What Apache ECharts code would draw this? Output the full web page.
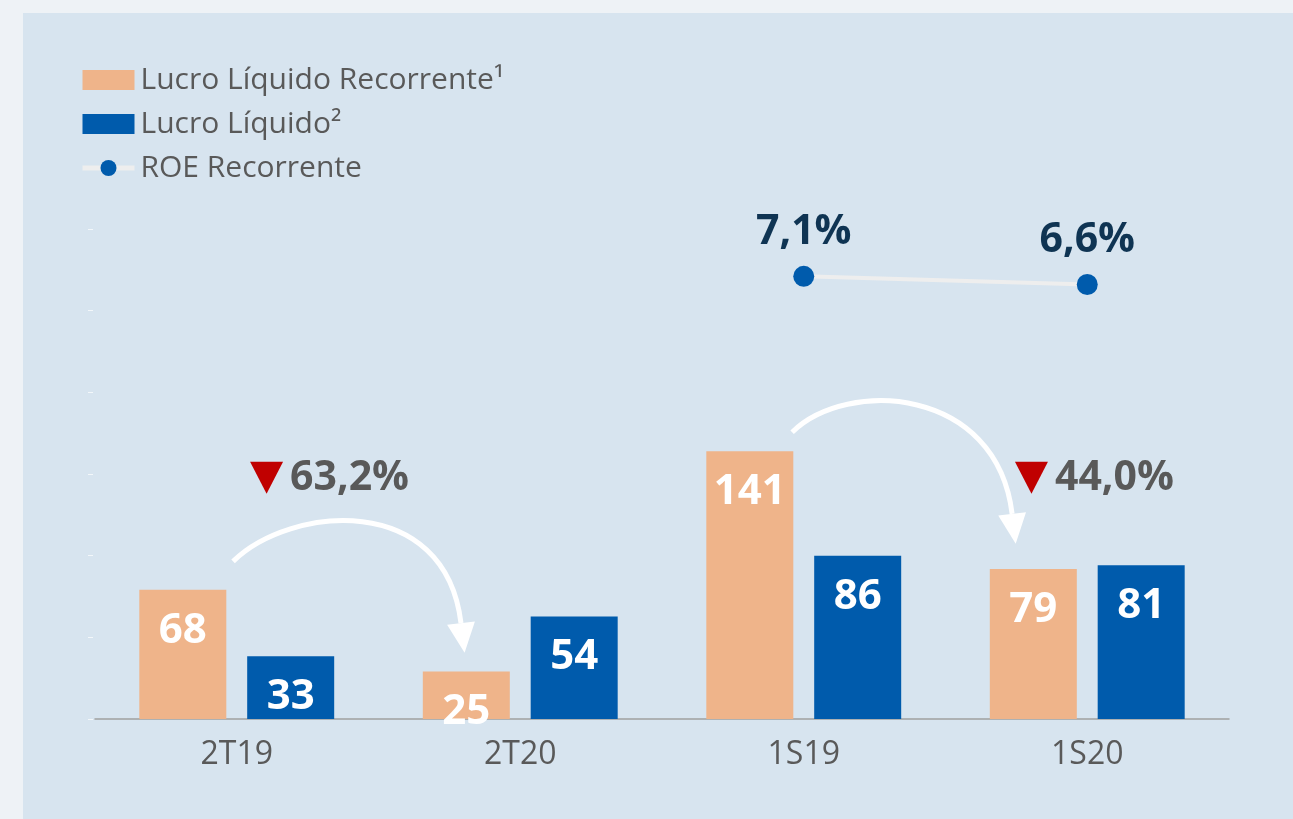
<!DOCTYPE html>
<html>
<head>
<meta charset="utf-8">
<script src="https://cdn.jsdelivr.net/npm/echarts@6/dist/echarts.min.js"></script>
<style>
  html, body { margin: 0; padding: 0; background: #eef2f6; }
  #chart { position: absolute; left: 23px; top: 13px; width: 1270px; height: 806px; }
</style>
</head>
<body>
<div id="chart"></div>
<script>
const categories = ['2T19', '2T20', '1S19', '1S20'];
const lucroRecorrente = [68, 25, 141, 79];
const lucroLiquido = [33, 54, 86, 81];
const roeRecorrente = [null, null, 7.1, 6.6];

// variation callouts: text and anchor (x in category units, y in bar-axis units)
const variationText = ['63,2%', '44,0%'];
const variationAnchor = [[0.047, 127], [2.745, 127]];
// curved arrows: start x, start y, end x, end y
const arrowPaths = [[-0.013, 83, 0.791, 50.5], [1.959, 151, 2.735, 108]];

const font = 'Open Sans';
const chart = echarts.init(document.getElementById('chart'));

const barLabel = {
    show: true, position: 'insideTop', distance: 20,
    fontFamily: font, fontSize: 42, fontWeight: 'bold', color: '#fff'
};

const option = {
    backgroundColor: '#d7e4ef',
    animation: false,
    legend: {
        orient: 'vertical',
        left: 57,
        top: 52,
        padding: 0,
        itemWidth: 52,
        itemHeight: 20,
        itemGap: 14,
        data: [
            { name: 'Lucro Líquido Recorrente¹', icon: 'rect' },
            { name: 'Lucro Líquido²', icon: 'rect' },
            { name: 'ROE Recorrente', lineStyle: { width: 5, color: '#eeeeee' } }
        ],
        textStyle: { fontFamily: font, fontSize: 30, color: '#595959', padding: [0, 0, 0, 1] }
    },
    grid: { left: 72, right: 64, top: 216, bottom: 100 },
    xAxis: [
        {
            type: 'category',
            data: categories,
            axisLine: { lineStyle: { color: '#a0a0a0', width: 1.5 } },
            axisTick: { show: false },
            axisLabel: { fontFamily: font, fontSize: 32, color: '#595959', margin: 20 }
        },
        { type: 'value', min: -0.5, max: 3.5, show: false }
    ],
    yAxis: [
        {
            type: 'value',
            min: 0,
            max: 258,
            interval: 43,
            offset: 2,
            axisLine: { show: false, onZero: false },
            axisTick: { show: true, length: 5, lineStyle: { color: 'rgba(255,255,255,0.7)' } },
            axisLabel: { show: false },
            splitLine: { show: false }
        },
        { type: 'value', min: -20, max: 10, show: false, axisLine: { onZero: false } }
    ],
    series: [
        {
            name: 'Lucro Líquido Recorrente¹',
            type: 'bar',
            data: lucroRecorrente,
            barWidth: 87,
            barGap: '24%',
            itemStyle: { color: '#efb48a' },
            label: barLabel
        },
        {
            name: 'Lucro Líquido²',
            type: 'bar',
            data: lucroLiquido,
            barWidth: 87,
            barGap: '24%',
            itemStyle: { color: '#005bac' },
            label: barLabel
        },
        {
            name: 'ROE Recorrente',
            type: 'line',
            yAxisIndex: 1,
            data: roeRecorrente,
            symbol: 'circle',
            symbolSize: 21,
            z: 5,
            lineStyle: { color: '#eeeeee', width: 4 },
            itemStyle: { color: '#005bac' },
            label: {
                show: true, position: 'top', distance: 13,
                fontFamily: font, fontSize: 41, fontWeight: 'bold', color: '#0f3453',
                formatter: p => p.value.toFixed(1).replace('.', ',') + '%'
            }
        },
        {
            type: 'custom',
            xAxisIndex: 1,
            yAxisIndex: 0,
            silent: true,
            data: arrowPaths,
            renderItem(params, api) {
                const p0 = api.coord([api.value(0), api.value(1)]);
                const p3 = api.coord([api.value(2), api.value(3)]);
                const dx = p3[0] - p0[0];
                const c1 = [p0[0] + dx * 0.25, p0[1] - dx * 0.245];
                const c2 = [p3[0] - dx * 0.07, p3[1] - dx * 0.58];
                let ux = p3[0] - c2[0], uy = p3[1] - c2[1];
                const len = Math.hypot(ux, uy);
                ux /= len; uy /= len;
                const tip = [p3[0] + ux * 30, p3[1] + uy * 30];
                const b1 = [p3[0] - uy * 14, p3[1] + ux * 14];
                const b2 = [p3[0] + uy * 14, p3[1] - ux * 14];
                return {
                    type: 'group',
                    children: [
                        {
                            type: 'bezierCurve',
                            shape: { x1: p0[0], y1: p0[1], cpx1: c1[0], cpy1: c1[1], cpx2: c2[0], cpy2: c2[1], x2: p3[0], y2: p3[1] },
                            style: { stroke: '#fff', lineWidth: 5, fill: 'none' }
                        },
                        { type: 'polygon', shape: { points: [tip, b1, b2] }, style: { fill: '#fff' } }
                    ]
                };
            }
        },
        {
            type: 'custom',
            xAxisIndex: 1,
            yAxisIndex: 0,
            silent: true,
            data: variationAnchor,
            renderItem(params, api) {
                const p = api.coord([api.value(0), api.value(1)]);
                return {
                    type: 'group',
                    children: [
                        {
                            type: 'polygon',
                            shape: { points: [[p[0], p[1] - 16], [p[0] + 33, p[1] - 16], [p[0] + 16.5, p[1] + 16]] },
                            style: { fill: '#c00000' }
                        },
                        {
                            type: 'text',
                            x: p[0] + 40,
                            y: p[1] + 1,
                            style: {
                                text: variationText[params.dataIndex],
                                fontFamily: font, fontSize: 41, fontWeight: 'bold', fill: '#595959',
                                verticalAlign: 'middle', align: 'left'
                            }
                        }
                    ]
                };
            }
        }
    ]
};

chart.setOption(option);
</script>
</body>
</html>
